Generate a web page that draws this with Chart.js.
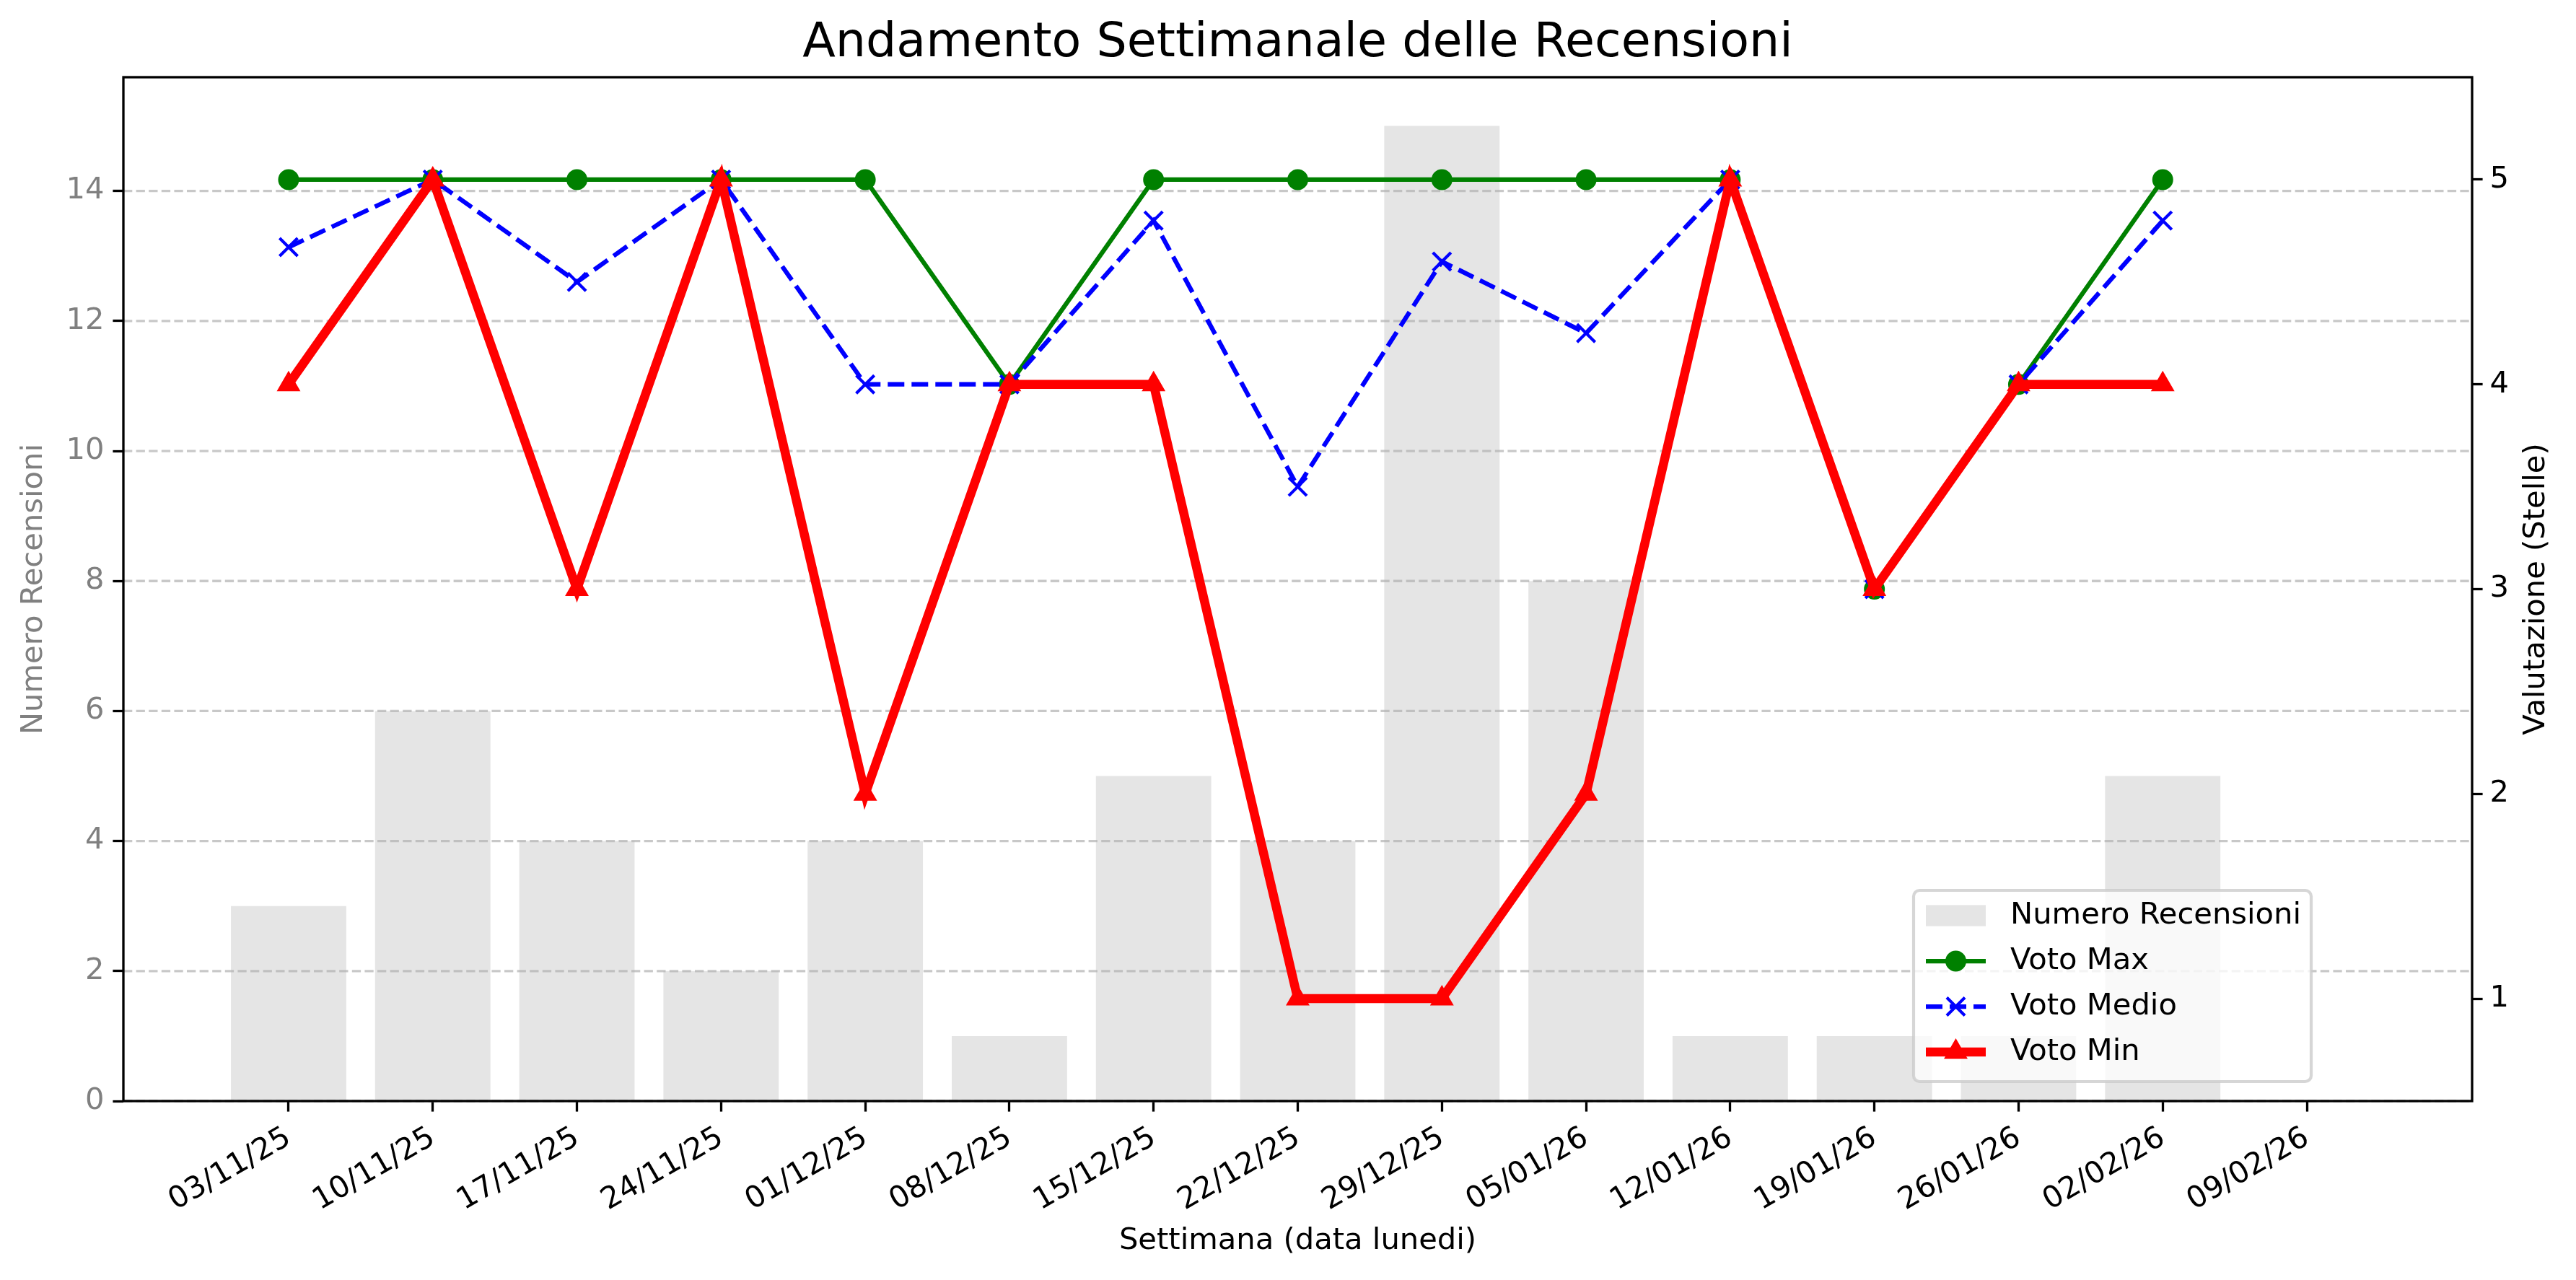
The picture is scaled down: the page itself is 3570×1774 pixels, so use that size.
<!DOCTYPE html>
<html>
<head>
<meta charset="utf-8">
<script src="https://cdn.jsdelivr.net/npm/chart.js@4.4.1/dist/chart.umd.min.js"></script>
<style>
  html, body { margin: 0; padding: 0; background: #ffffff; overflow: hidden; }
  canvas { display: block; }
</style>
</head>
<body>
<canvas id="grafico" width="3570" height="1774" style="width:3570px;height:1774px"></canvas>
<script>
// dati
var settimane = ['03/11/25', '10/11/25', '17/11/25', '24/11/25', '01/12/25', '08/12/25', '15/12/25',
                 '22/12/25', '29/12/25', '05/01/26', '12/01/26', '19/01/26', '26/01/26', '02/02/26', '09/02/26'];
var numeroRecensioni = [3, 6, 4, 2, 4, 1, 5, 4, 15, 8, 1, 1, 1, 5];
var votoMax   = [5, 5, 5, 5, 5, 4, 5, 5, 5, 5, 5, 3, 4, 5];
var votoMedio = [4.67, 5, 4.5, 5, 4, 4, 4.8, 3.5, 4.6, 4.25, 5, 3, 4, 4.8];
var votoMin   = [4, 5, 3, 5, 2, 4, 4, 1, 1, 2, 5, 3, 4, 4];
var tickRecensioni = [0, 2, 4, 6, 8, 10, 12, 14];
var tickStelle = [1, 2, 3, 4, 5];

var FONT = 'DejaVu Sans';
var FS = 41.67;

function punti(valori) {
  var out = [];
  for (var i in valori) out.push({x: Number(i), y: valori[i]});
  return out;
}

// griglia tratteggiata sopra le barre ma sotto le linee
var grigliaPlugin = {
  id: 'grigliaSopraBarre',
  afterDatasetDraw: function(chart, args) {
    if (args.meta.type !== 'bar') return;
    var ctx = chart.ctx, area = chart.chartArea, sy = chart.scales.y;
    ctx.save();
    ctx.strokeStyle = 'rgba(176,176,176,0.7)';
    ctx.lineWidth = 3.3;
    ctx.setLineDash([12.3, 5.3]);
    sy.ticks.forEach(function(t) {
      var py = sy.getPixelForValue(t.value);
      ctx.beginPath();
      ctx.moveTo(area.left, py);
      ctx.lineTo(area.right, py);
      ctx.stroke();
    });
    ctx.restore();
  }
};

// cornice, titolo asse destro e legenda
var cornicePlugin = {
  id: 'cornice',
  afterDraw: function(chart) {
    var ctx = chart.ctx, a = chart.chartArea;
    ctx.save();
    ctx.strokeStyle = '#000000';
    ctx.lineWidth = 3.3;
    ctx.strokeRect(a.left, a.top, a.right - a.left, a.bottom - a.top);

    // titolo asse destro (letto dal basso verso l'alto)
    ctx.translate(3515, (a.top + a.bottom) / 2);
    ctx.rotate(-Math.PI / 2);
    ctx.fillStyle = '#000000';
    ctx.font = FS + 'px "' + FONT + '"';
    ctx.textAlign = 'center';
    ctx.textBaseline = 'middle';
    ctx.fillText('Valutazione (Stelle)', 0, 0);
    ctx.restore();

    // legenda
    var lx = 2652, ly = 1234, lw = 551, lh = 265;
    ctx.save();
    ctx.beginPath();
    if (ctx.roundRect) ctx.roundRect(lx, ly, lw, lh, 8.3); else ctx.rect(lx, ly, lw, lh);
    ctx.fillStyle = 'rgba(255,255,255,0.8)';
    ctx.fill();
    ctx.strokeStyle = 'rgba(204,204,204,0.8)';
    ctx.lineWidth = 4.2;
    ctx.stroke();

    var hx0 = lx + 17, hx1 = hx0 + 83, hc = (hx0 + hx1) / 2, tx = hx1 + 34;
    var righe = [ly + 35, ly + 98, ly + 161, ly + 224];
    var ds = chart.data.datasets;
    var drawPoint = Chart.helpers && Chart.helpers.drawPoint;
    ds.forEach(function(d, r) {
      var cy = righe[r];
      ctx.save();
      if (d.type === 'bar') {
        ctx.fillStyle = d.backgroundColor;
        ctx.fillRect(hx0, cy - 14.6, hx1 - hx0, 29.2);
      } else {
        ctx.strokeStyle = d.borderColor;
        ctx.lineWidth = d.borderWidth;
        ctx.setLineDash(d.borderDash || []);
        ctx.beginPath();
        ctx.moveTo(hx0, cy);
        ctx.lineTo(hx1, cy);
        ctx.stroke();
        ctx.setLineDash([]);
        ctx.fillStyle = d.pointBackgroundColor;
        ctx.strokeStyle = d.pointBorderColor;
        ctx.lineWidth = d.pointBorderWidth;
        if (drawPoint) {
          drawPoint(ctx, {pointStyle: d.pointStyle, radius: d.pointRadius, borderWidth: d.pointBorderWidth, rotation: 0}, hc, cy);
        }
      }
      ctx.restore();
      ctx.fillStyle = '#000000';
      ctx.font = FS + 'px "' + FONT + '"';
      ctx.textAlign = 'left';
      ctx.textBaseline = 'middle';
      ctx.fillText(d.label, tx, cy);
    });
    ctx.restore();
  }
};

var chartdata = {
  datasets: [
    {
      type: 'bar',
      label: 'Numero Recensioni',
      data: punti(numeroRecensioni),
      yAxisID: 'y',
      backgroundColor: 'rgba(211,211,211,0.6)',
      borderWidth: 0,
      barPercentage: 0.8,
      categoryPercentage: 1.0,
      order: 10
    },
    {
      type: 'line',
      label: 'Voto Max',
      data: punti(votoMax),
      yAxisID: 'y2',
      borderColor: '#008000',
      backgroundColor: '#008000',
      borderWidth: 6.25,
      tension: 0,
      pointStyle: 'circle',
      pointRadius: 12.5,
      pointBorderWidth: 4,
      pointBackgroundColor: '#008000',
      pointBorderColor: '#008000',
      order: 3
    },
    {
      type: 'line',
      label: 'Voto Medio',
      data: punti(votoMedio),
      yAxisID: 'y2',
      borderColor: '#0000ff',
      backgroundColor: '#0000ff',
      borderWidth: 6.25,
      borderDash: [23, 10],
      tension: 0,
      pointStyle: 'crossRot',
      pointRadius: 17.7,
      pointBorderWidth: 4.2,
      pointBackgroundColor: '#0000ff',
      pointBorderColor: '#0000ff',
      order: 2
    },
    {
      type: 'line',
      label: 'Voto Min',
      data: punti(votoMin),
      yAxisID: 'y2',
      borderColor: '#ff0000',
      backgroundColor: '#ff0000',
      borderWidth: 12.5,
      tension: 0,
      pointStyle: 'triangle',
      pointRadius: 15,
      pointBorderWidth: 4,
      pointBackgroundColor: '#ff0000',
      pointBorderColor: '#ff0000',
      order: 1
    }
  ]
};

var ctx = document.getElementById('grafico').getContext('2d');
var grafico = new Chart(ctx, {
  data: chartdata,
  plugins: [grigliaPlugin, cornicePlugin],
  options: {
    responsive: false,
    devicePixelRatio: 1,
    animation: false,
    layout: { padding: 0 },
    plugins: {
      legend: { display: false },
      tooltip: { enabled: false },
      title: {
        display: true,
        text: 'Andamento Settimanale delle Recensioni',
        fullSize: false,
        color: '#000000',
        font: { family: FONT, size: 66.67, weight: 'normal', lineHeight: 1.2 },
        padding: { top: 21, bottom: 6 }
      }
    },
    scales: {
      x: {
        type: 'linear',
        offset: false,
        min: -1.146,
        max: 15.146,
        afterBuildTicks: function(scale) {
          scale.ticks = settimane.map(function(_, i) { return {value: i}; });
        },
        afterFit: function(scale) { scale.height = 248; },
        grid: { offset: false, drawOnChartArea: false, drawTicks: true, tickLength: 14.6, tickWidth: 3.3, tickColor: '#000000' },
        border: { display: false },
        ticks: {
          autoSkip: false,
          minRotation: 30,
          maxRotation: 30,
          padding: 12,
          color: '#000000',
          font: { family: FONT, size: FS },
          callback: function(v) { return settimane[v] !== undefined ? settimane[v] : ''; }
        },
        title: {
          display: true,
          text: 'Settimana (data lunedi)',
          color: '#000000',
          font: { family: FONT, size: FS, lineHeight: 1.2 },
          padding: { top: 0, bottom: 29 }
        }
      },
      y: {
        type: 'linear',
        position: 'left',
        min: 0,
        max: 15.75,
        afterBuildTicks: function(scale) {
          scale.ticks = tickRecensioni.map(function(v) { return {value: v}; });
        },
        afterFit: function(scale) { scale.width = 171; },
        grid: { drawOnChartArea: false, drawTicks: true, tickLength: 14.6, tickWidth: 3.3, tickColor: '#000000' },
        border: { display: false },
        ticks: {
          padding: 12,
          color: '#808080',
          font: { family: FONT, size: FS }
        },
        title: {
          display: true,
          text: 'Numero Recensioni',
          color: '#808080',
          font: { family: FONT, size: FS, lineHeight: 1.2 },
          padding: { top: 22, bottom: 0 }
        }
      },
      y2: {
        type: 'linear',
        position: 'right',
        min: 0.5,
        max: 5.5,
        afterBuildTicks: function(scale) {
          scale.ticks = tickStelle.map(function(v) { return {value: v}; });
        },
        afterFit: function(scale) { scale.width = 144; },
        grid: { drawOnChartArea: false, drawTicks: true, tickLength: 14.6, tickWidth: 3.3, tickColor: '#000000' },
        border: { display: false },
        ticks: {
          padding: 10,
          color: '#000000',
          font: { family: FONT, size: FS }
        },
        title: { display: false }
      }
    }
  }
});
</script>
</body>
</html>
